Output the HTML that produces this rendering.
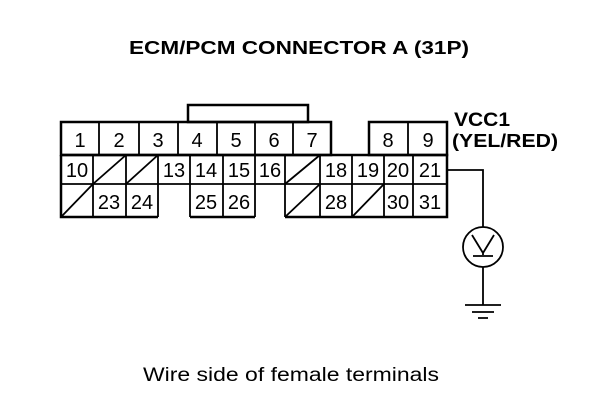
<!DOCTYPE html>
<html><head><style>
body{margin:0;background:#fff;}
svg{display:block}
text{font-family:"Liberation Sans",Arial,sans-serif;}
</style></head><body>
<svg width="608" height="412" viewBox="0 0 608 412" xmlns="http://www.w3.org/2000/svg">
<text x="299" y="54" font-size="18" font-weight="bold" text-anchor="middle" textLength="340" lengthAdjust="spacingAndGlyphs">ECM/PCM CONNECTOR A (31P)</text>
<g fill="none" stroke="#000" stroke-width="2.5">
<rect x="188" y="105" width="120" height="17"/>
<rect x="61" y="122" width="270" height="33"/>
<rect x="369" y="122" width="78" height="33"/>
<path d="M61 155 V217 H158 M190 217 H255 M285 217 H447 V155 H61"/>
</g>
<g stroke="#000" stroke-width="1.8" fill="none">
<path d="M99 122V155 M139 122V155 M178 122V155 M217 122V155 M255 122V155 M293 122V155 M408 122V155"/>
<path d="M61 184 H447"/>
<path d="M93 155V217 M126 155V217 M158 155V217 M190 155V217 M223 155V217 M255 155V217 M285 155V217 M320 155V217 M352 155V217 M384 155V217 M413 155V217"/>
<path d="M93 184L126 155 M126 184L158 155 M285 184L320 155 M61 217L93 184 M285 217L320 184 M352 217L384 184"/>
</g>
<g font-size="20" text-anchor="middle">
<text x="80" y="147">1</text><text x="119" y="147">2</text><text x="158" y="147">3</text><text x="197" y="147">4</text><text x="236" y="147">5</text><text x="274" y="147">6</text><text x="312" y="147">7</text><text x="388" y="147">8</text><text x="428" y="147">9</text>
<text x="77" y="177">10</text><text x="174" y="177">13</text><text x="206" y="177">14</text><text x="239" y="177">15</text><text x="270" y="177">16</text><text x="336" y="177">18</text><text x="368" y="177">19</text><text x="398" y="177">20</text><text x="430" y="177">21</text>
<text x="109" y="209">23</text><text x="142" y="209">24</text><text x="206" y="209">25</text><text x="239" y="209">26</text><text x="336" y="209">28</text><text x="398" y="209">30</text><text x="430" y="209">31</text>
</g>
<g stroke="#000" stroke-width="1.8" fill="none">
<path d="M447 170H483V227 M483 267V305 M465 305H501 M472 312H494 M478 318H488"/>
<circle cx="483" cy="247" r="20"/>
<path d="M472 235L483 253L494 235 M483 253V255 M473 256H493"/>
</g>
<text x="454" y="126" font-size="19" font-weight="bold" textLength="56" lengthAdjust="spacingAndGlyphs">VCC1</text>
<text x="452" y="147" font-size="18" font-weight="bold" textLength="106" lengthAdjust="spacingAndGlyphs">(YEL/RED)</text>
<text x="291" y="381" font-size="19" text-anchor="middle" textLength="296" lengthAdjust="spacingAndGlyphs">Wire side of female terminals</text>
</svg>
</body></html>
